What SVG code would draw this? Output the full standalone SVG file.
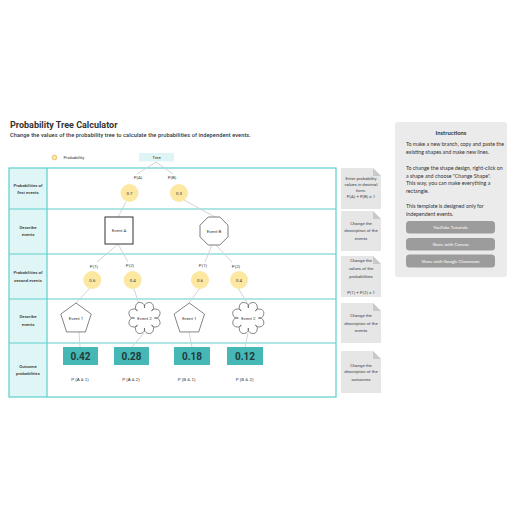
<svg xmlns="http://www.w3.org/2000/svg" width="516" height="516" viewBox="0 0 516 516">
<style>
text{font-family:Roboto,"Liberation Sans",sans-serif;fill:#333;}
.t{font-size:4.4px;text-anchor:middle;}
.pl{font-family:"Liberation Sans",Arial,sans-serif;font-size:4.4px;text-anchor:middle;fill:#333;}
.rl{font-size:4.3px;text-anchor:middle;font-weight:500;}
.nt{font-size:4.3px;text-anchor:middle;fill:#444;}
.prob{fill:#fde8a2;}
.ln{stroke:#cfcfcf;stroke-width:0.9;fill:none;}
.tb{fill:none;stroke:#5ccfcc;stroke-width:1.2;}
.out{fill:#45b7b4;}
.ov{font-size:10px;font-weight:bold;text-anchor:middle;fill:#1f3b3b;}
.note{fill:#e6e6e6;}
.fold{fill:#c9c9c9;}
.ins{font-family:Lato,"Liberation Sans",sans-serif;font-size:5.3px;fill:#333;}
.btn{fill:#9c9c9c;}
.bt{font-family:Lato,"Liberation Sans",sans-serif;font-size:4.5px;fill:#fff;text-anchor:middle;}
</style>
<rect width="516" height="516" fill="#fff"/>
<text x="10" y="127.5" style="font-size:9px;font-weight:bold" fill="#222">Probability Tree Calculator</text>
<text x="10" y="137" style="font-size:5.6px;font-weight:500;letter-spacing:0.1px">Change the values of the probability tree to calculate the probabilities of independent events.</text>
<g id="legend">
<circle cx="54.5" cy="157.5" r="2.4" fill="#fde8a2" stroke="#d9a84a" stroke-width="0.6"/>
<text x="63.5" y="159" style="font-size:4.4px">Probability</text>
<rect x="139" y="153" width="35" height="8.5" fill="#dff5f5"/>
<text class="t" x="156.5" y="159">Tree</text>
</g>
<g id="table">
<rect x="9" y="168" width="38" height="229" fill="#e0f6f6"/>
<rect class="tb" x="9" y="168" width="327" height="229"/>
<line class="tb" x1="47" y1="168" x2="47" y2="397"/>
<line class="tb" x1="9" y1="209" x2="336" y2="209"/>
<line class="tb" x1="9" y1="254" x2="336" y2="254"/>
<line class="tb" x1="9" y1="299" x2="336" y2="299"/>
<line class="tb" x1="9" y1="343" x2="336" y2="343"/>
<text class="rl" x="28" y="186.5">Probabilities of</text>
<text class="rl" x="28" y="194">first events</text>
<text class="rl" x="28" y="229">Describe</text>
<text class="rl" x="28" y="236">events</text>
<text class="rl" x="28" y="274">Probabilities of</text>
<text class="rl" x="28" y="281.5">second events</text>
<text class="rl" x="28" y="318">Describe</text>
<text class="rl" x="28" y="325.5">events</text>
<text class="rl" x="28" y="367.5">Outcome</text>
<text class="rl" x="28" y="375">probabilities</text>
</g>
<g id="connectors">
<line class="ln" x1="156" y1="162" x2="137" y2="174"/>
<line class="ln" x1="156" y1="162" x2="173" y2="174"/>
<line class="ln" x1="126" y1="202" x2="118" y2="217"/>
<line class="ln" x1="184" y1="200" x2="215" y2="217"/>
<line class="ln" x1="118" y1="244" x2="97" y2="262"/>
<line class="ln" x1="118" y1="244" x2="128" y2="262"/>
<line class="ln" x1="212" y1="245" x2="205" y2="262"/>
<line class="ln" x1="215" y1="244" x2="232" y2="262"/>
<line class="ln" x1="90" y1="288" x2="76" y2="303"/>
<line class="ln" x1="134" y1="289" x2="139" y2="304"/>
<line class="ln" x1="200" y1="288" x2="189" y2="303"/>
<line class="ln" x1="238" y1="288" x2="248" y2="304"/>
<line class="ln" x1="79" y1="332" x2="80" y2="347"/>
<line class="ln" x1="144" y1="333" x2="132" y2="347"/>
<line class="ln" x1="189" y1="332" x2="192" y2="347"/>
<line class="ln" x1="248" y1="333" x2="245" y2="347"/>
</g>
<g id="pA"><text class="t" x="138" y="178.5">P(A)</text><circle class="prob" cx="129.5" cy="193" r="9"/><text class="t" x="129.5" y="194.5">0.7</text></g>
<g id="pB"><text class="t" x="172" y="178.5">P(B)</text><circle class="prob" cx="179" cy="193" r="9"/><text class="t" x="179" y="194.5">0.3</text></g>
<g id="eventA"><rect x="105" y="217" width="28" height="27" fill="#fff" stroke="#333" stroke-width="1"/><text class="t" x="119" y="232">Event A</text></g>
<g id="eventB"><polygon points="208.2,217 219.8,217 228,225.2 228,236.8 219.8,245 208.2,245 200,236.8 200,225.2" fill="#fff" stroke="#7a7a7a" stroke-width="1"/><text class="t" x="214" y="232.5">Event B</text></g>
<g id="pA1"><text class="t" x="94" y="268">P(1)</text><circle class="prob" cx="92.3" cy="280" r="9"/><text class="t" x="92.3" y="281.5">0.6</text></g>
<g id="pA2"><text class="t" x="130" y="267">P(2)</text><circle class="prob" cx="132.7" cy="280" r="9"/><text class="t" x="132.7" y="281.5">0.4</text></g>
<g id="pB1"><text class="t" x="203" y="266.5">P(1)</text><circle class="prob" cx="200" cy="280" r="9"/><text class="t" x="200" y="281.5">0.6</text></g>
<g id="pB2"><text class="t" x="236" y="268">P(2)</text><circle class="prob" cx="239" cy="280" r="9"/><text class="t" x="239" y="281.5">0.4</text></g>
<defs>
<polygon id="pent" points="0,-16 15.22,-4.94 9.4,12.94 -9.4,12.94 -15.22,-4.94" fill="#fff" stroke="#666" stroke-width="0.8"/>
<path id="cloud" d="M0,-10 A4.6 4.6 0 1 1 7.07,-7.07 A4.6 4.6 0 1 1 10,0 A4.6 4.6 0 1 1 7.07,7.07 A4.6 4.6 0 1 1 0,10 A4.6 4.6 0 1 1 -7.07,7.07 A4.6 4.6 0 1 1 -10,0 A4.6 4.6 0 1 1 -7.07,-7.07 A4.6 4.6 0 1 1 0,-10 Z" fill="#fff" stroke="#555" stroke-width="0.7"/>
</defs>
<g id="eA1"><use href="#pent" x="76" y="319"/><text class="t" x="76" y="320">Event 1</text></g>
<g id="eA2"><use href="#cloud" x="144.5" y="318"/><text class="t" x="144.5" y="319.5">Event 2</text></g>
<g id="eB1"><use href="#pent" x="189.3" y="319"/><text class="t" x="189.3" y="320">Event 1</text></g>
<g id="eB2"><use href="#cloud" x="248.3" y="318"/><text class="t" x="248.3" y="319.5">Event 2</text></g>
<g id="oA1"><rect class="out" x="63" y="347" width="35" height="18"/><text class="ov" x="80.5" y="359.5">0.42</text><text class="pl" x="80" y="380.5">P (A &amp; 1)</text></g>
<g id="oA2"><rect class="out" x="114" y="347" width="35" height="18"/><text class="ov" x="131.5" y="359.5">0.28</text><text class="pl" x="131" y="380.5">P (A &amp; 2)</text></g>
<g id="oB1"><rect class="out" x="174" y="347" width="36" height="18"/><text class="ov" x="192" y="359.5">0.18</text><text class="pl" x="186.5" y="380.5">P (B &amp; 1)</text></g>
<g id="oB2"><rect class="out" x="227" y="347" width="36" height="18"/><text class="ov" x="245" y="359.5">0.12</text><text class="pl" x="244.5" y="380.5">P (B &amp; 2)</text></g>
<g id="note1"><path class="note" d="M341,168 H373 L381,176 V209 H341 Z"/><path class="fold" d="M373,168 V176 H381 Z"/>
<text class="nt" x="361" y="180">Enter  probability</text><text class="nt" x="361" y="186">values in decimal</text><text class="nt" x="361" y="191.8">form.</text><text class="nt" x="361" y="197.5">P(A) + P(B) = 1</text></g>
<g id="note2"><path class="note" d="M341,211 H373 L381,219 V251 H341 Z"/><path class="fold" d="M373,211 V219 H381 Z"/>
<text class="nt" x="361" y="224.8">Change the</text><text class="nt" x="361" y="232">description of the</text><text class="nt" x="361" y="239.5">events</text></g>
<g id="note3"><path class="note" d="M341,256 H373 L381,264 V297 H341 Z"/><path class="fold" d="M373,256 V264 H381 Z"/>
<text class="nt" x="361" y="262.2">Change the</text><text class="nt" x="361" y="269.8">values of the</text><text class="nt" x="361" y="277.5">probabilities</text><text class="nt" x="361" y="293.5">P(1) + P(2) = 1</text></g>
<g id="note4"><path class="note" d="M341,303 H373 L381,311 V343 H341 Z"/><path class="fold" d="M373,303 V311 H381 Z"/>
<text class="nt" x="361" y="316.5">Change the</text><text class="nt" x="361" y="324.8">description of the</text><text class="nt" x="361" y="332.2">events</text></g>
<g id="note5"><path class="note" d="M341,351 H373 L381,359 V393 H341 Z"/><path class="fold" d="M373,351 V359 H381 Z"/>
<text class="nt" x="361" y="366.5">Change the</text><text class="nt" x="361" y="373.2">description of the</text><text class="nt" x="361" y="380.8">outcomes</text></g>
<g id="instructions">
<rect x="395" y="122" width="112" height="155" rx="3" fill="#ebebeb"/>
<text class="ins" x="451" y="134.5" text-anchor="middle" style="font-size:5.8px;font-weight:bold">Instructions</text>
<text class="ins" x="406" y="146">To make a new branch, copy and paste the</text>
<text class="ins" x="406" y="154">existing shapes and make new lines.</text>
<text class="ins" x="406" y="170">To change the shape design, right-click on</text>
<text class="ins" x="406" y="177.5">a shape and choose "Change Shape".</text>
<text class="ins" x="406" y="185">This way, you can make everything a</text>
<text class="ins" x="406" y="192.7">rectangle.</text>
<text class="ins" x="406" y="208">This template is designed only for</text>
<text class="ins" x="406" y="215.7">independent events.</text>
<rect class="btn" x="406" y="221" width="89" height="12.5" rx="3.5"/><text class="bt" x="450.5" y="228.8">YouTube Tutorials</text>
<rect class="btn" x="406" y="238" width="89" height="12.5" rx="3.5"/><text class="bt" x="450.5" y="245.8">Share with Canvas</text>
<rect class="btn" x="406" y="254.5" width="89" height="13" rx="3.5"/><text class="bt" x="450.5" y="262.5">Share with Google Classroom</text>
</g>
</svg>
